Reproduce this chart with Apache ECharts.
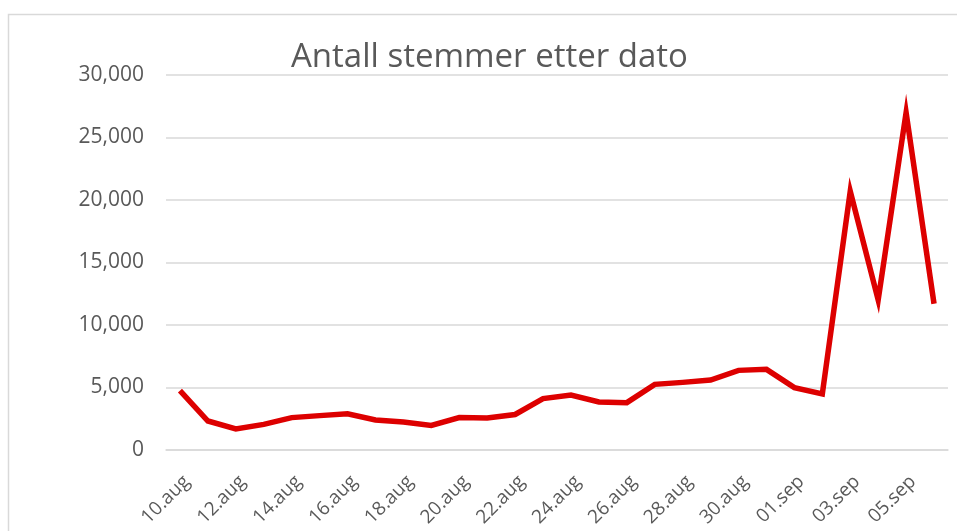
<!DOCTYPE html>
<html><head><meta charset="utf-8">
<script src="https://cdn.jsdelivr.net/npm/echarts@6/dist/echarts.min.js"></script>
<style>html,body{margin:0;padding:0;background:#fff}#c{width:957px;height:531px}</style>
</head><body><div id="c"></div>
<script>
const categories = ["10.aug","11.aug","12.aug","13.aug","14.aug","15.aug","16.aug","17.aug","18.aug","19.aug","20.aug","21.aug","22.aug","23.aug","24.aug","25.aug","26.aug","27.aug","28.aug","29.aug","30.aug","31.aug","01.sep","02.sep","03.sep","04.sep","05.sep","06.sep"];
const votes = [4750,2320,1680,2050,2590,2750,2900,2400,2240,1970,2590,2560,2840,4110,4400,3840,3790,5250,5410,5600,6370,6450,4990,4480,20700,12000,27000,11700];
const yTicks = {min:0, max:30000, interval:5000};

const chart = echarts.init(document.getElementById('c'));
chart.setOption({
  backgroundColor:'#fff',
  animation:false,
  graphic:[{type:'rect', shape:{x:8.5,y:14.5,width:1000,height:600}, style:{fill:'none', stroke:'#d9d9d9', lineWidth:1.5}, silent:true}],
  title:{text:'Antall stemmer etter dato', left:286, top:36,
    textStyle:{fontFamily:'Open Sans', fontSize:33, fontWeight:'normal', color:'#595959'}},
  grid:{left:166, right:9, top:75, bottom:81},
  xAxis:{type:'category', data:categories, boundaryGap:true,
    axisLine:{show:true, lineStyle:{color:'#d9d9d9', width:1.5}},
    axisTick:{show:false},
    axisLabel:{interval:1, rotate:45, margin:22, verticalAlign:'top', fontFamily:'Open Sans', fontSize:19, color:'#595959'}},
  yAxis:{type:'value', min:yTicks.min, max:yTicks.max, interval:yTicks.interval,
    axisLine:{show:false}, axisTick:{show:false},
    splitLine:{lineStyle:{color:'#d9d9d9', width:1.5}},
    axisLabel:{margin:22, fontFamily:'Open Sans', fontSize:21, color:'#595959',
      formatter:v=>v.toLocaleString('en-US')}},
  series:[{type:'line', data:votes, symbol:'none',
    lineStyle:{color:'#dd0000', width:5.5, join:'miter'}}]
});
</script></body></html>
